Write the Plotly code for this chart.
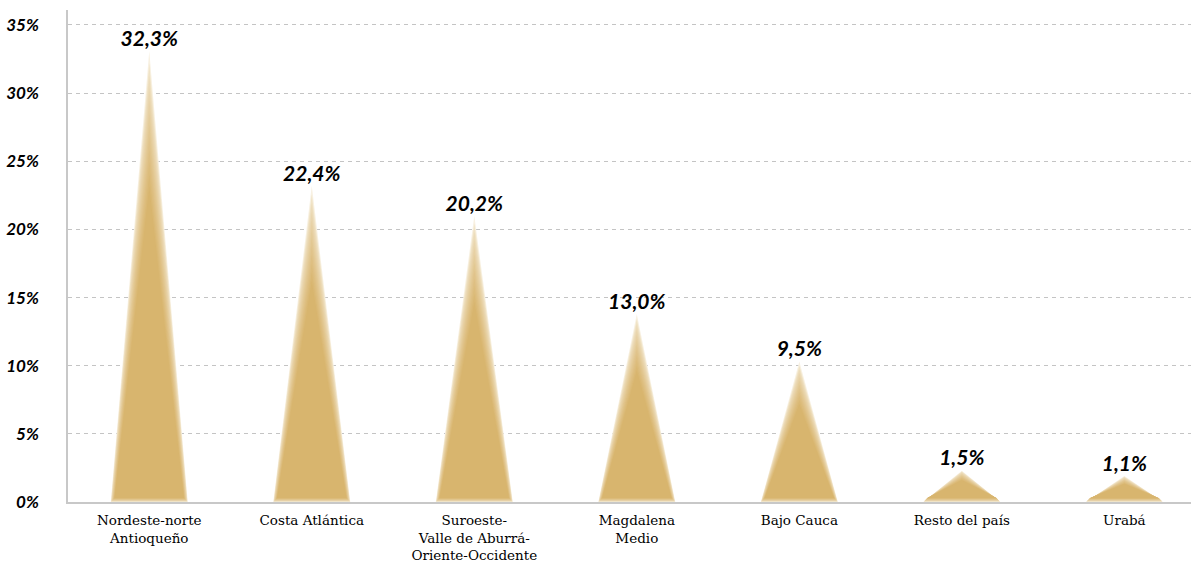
import plotly.graph_objects as go

categories = ["Nordeste-norte<br>Antioqueño", "Costa Atlántica",
              "Suroeste-<br>Valle de Aburrá-<br>Oriente-Occidente",
              "Magdalena<br>Medio", "Bajo Cauca", "Resto del país", "Urabá"]
values = [32.3, 22.4, 20.2, 13.0, 9.5, 1.5, 1.1]
y_ticks = [0, 5, 10, 15, 20, 25, 30, 35]
y_tick_labels = ["0%", "5%", "10%", "15%", "20%", "25%", "30%", "35%"]

HALF_W = 0.237     # half base width of each cone, in category units
TIP_EXTRA = 0.8    # 3D-cone tip overshoot seen in the original rendering
N_LAYERS = 12
pale = (248, 241, 226)
tan = (216, 181, 110)

fig = go.Figure()
for i in range(N_LAYERS):
    t = i / (N_LAYERS - 1)
    c = tuple(round(pale[k] + (tan[k] - pale[k]) * (t ** 0.6)) for k in range(3))
    wf = 1 - 0.10 * t
    hf = 1 - 0.30 * t
    base = 0.3 * t
    xs, ys = [], []
    for j, v in enumerate(values):
        hw = HALF_W * wf
        top = (v + TIP_EXTRA) * hf
        b = min(base, top * 0.2)
        xs += [j - hw, j, j + hw, j - hw, None]
        ys += [b, top, b, b, None]
    fig.add_trace(go.Scatter(x=xs, y=ys, mode="lines", fill="toself",
                             fillcolor="rgb(%d,%d,%d)" % c,
                             line=dict(width=0), hoverinfo="skip",
                             showlegend=False))

fig.add_trace(go.Scatter(
    x=list(range(len(values))), y=[v + TIP_EXTRA for v in values], mode="text",
    text=[("%.1f%%" % v).replace(".", ",") for v in values],
    textposition="top center",
    textfont=dict(family="Lato, Open Sans, sans-serif", size=21,
                  color="black", weight="bold", style="italic"),
    showlegend=False, hoverinfo="skip"))

fig.update_layout(
    width=1191, height=562,
    margin=dict(l=68, r=0, t=10, b=60, autoexpand=False),
    plot_bgcolor="white", paper_bgcolor="white",
    xaxis=dict(tickmode="array", tickvals=list(range(len(categories))),
               ticktext=categories, range=[-0.5, 6.41], automargin=False,
               showgrid=False, zeroline=False, showline=True,
               linecolor="#c8c8c8", linewidth=1.5, ticks="",
               ticklabelstandoff=5,
               tickfont=dict(family="DejaVu Serif, serif",
                             size=13.5, color="black")),
    yaxis=dict(range=[0, 36.1], tickmode="array", tickvals=y_ticks,
               ticktext=y_tick_labels, showgrid=True, gridcolor="#c4c4c4",
               griddash="4px,4px", gridwidth=1, zeroline=False, showline=True,
               linecolor="#c8c8c8", linewidth=1.5, ticks="", automargin=False,
               ticklabelstandoff=24,
               tickfont=dict(family="Lato, Open Sans, sans-serif", size=17,
                             color="black", weight="bold", style="italic")),
)

fig.write_html("out.html",
               config={"displayModeBar": False},
               post_script="document.body.style.margin='0';")
